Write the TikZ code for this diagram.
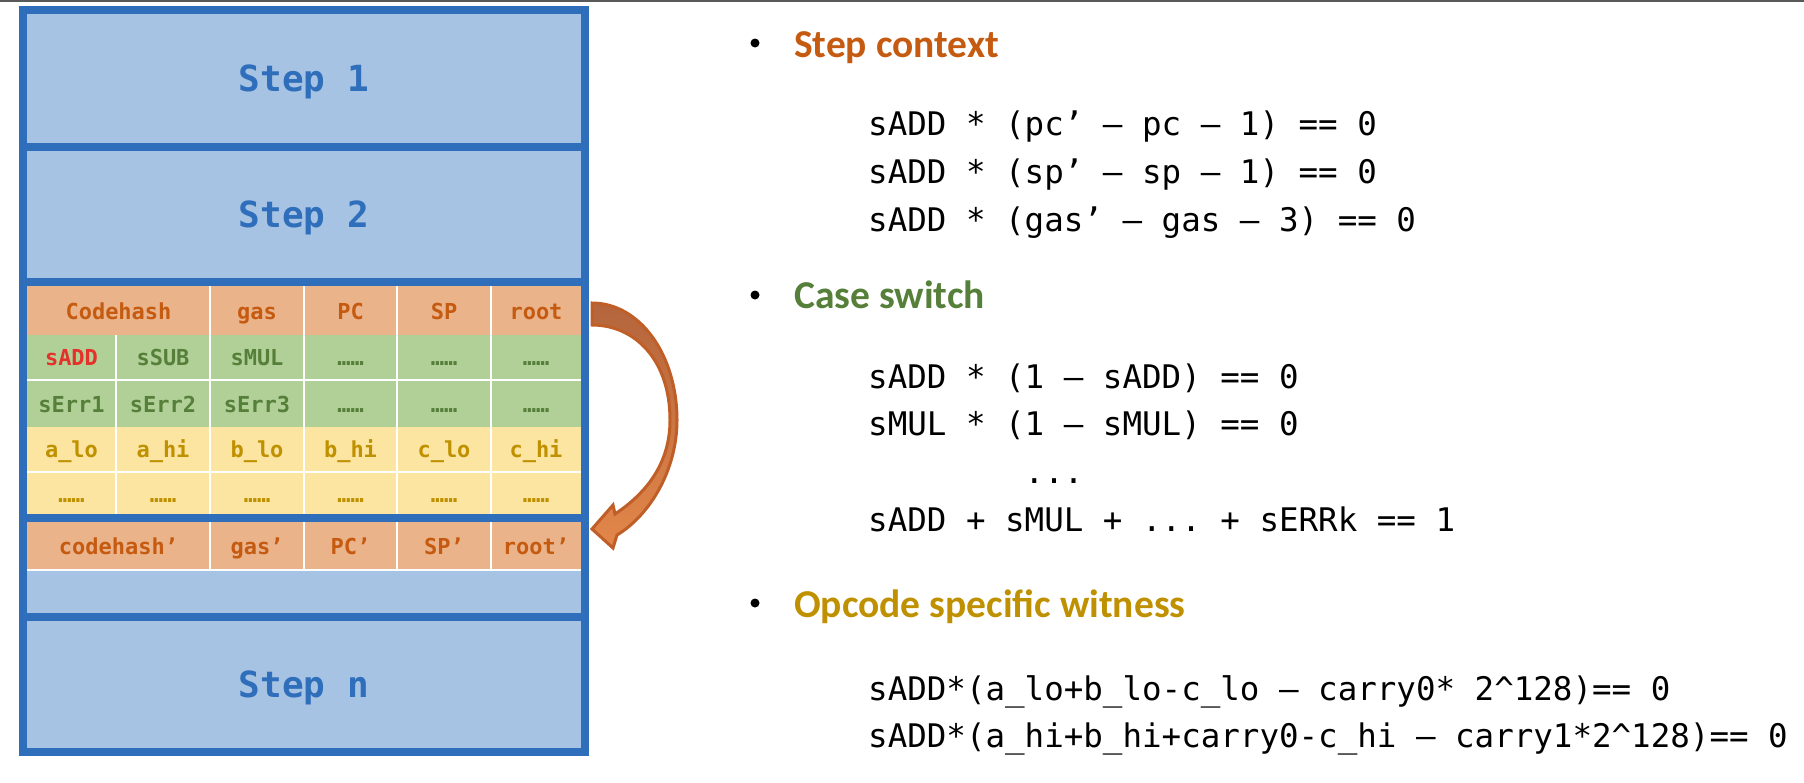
\documentclass[tikz,border=0pt]{standalone}
\usepackage{fontspec}
\setmonofont{DejaVu Sans Mono}
\newfontfamily\headfont{Carlito}

\definecolor{stepblue}{HTML}{2F6EBA}
\definecolor{stepfill}{HTML}{A6C3E3}
\definecolor{ctxorange}{HTML}{C55A11}
\definecolor{ctxfill}{HTML}{EAB38A}
\definecolor{swgreen}{HTML}{56803A}
\definecolor{swfill}{HTML}{B1D098}
\definecolor{witgold}{HTML}{BF9000}
\definecolor{witfill}{HTML}{FBE5A1}
\definecolor{saddred}{HTML}{E6302A}
\definecolor{arrowdark}{HTML}{B4653C}
\definecolor{arrowlight}{HTML}{E3874A}
\definecolor{arrowline}{HTML}{C05E27}

\begin{document}
\begin{tikzpicture}[x=1pt, y=-1pt,
    stepbox/.style={draw=stepblue, line width=8pt, fill=stepfill, inner sep=0pt,
      minimum width=562pt, text=stepblue, text height=27pt, text depth=0pt,
      font=\ttfamily\bfseries\fontsize{36}{40}\selectfont},
    cell/.style={inner sep=0pt, text height=17pt, text depth=0pt,
      font=\ttfamily\bfseries\fontsize{22}{24}\selectfont},
    ctxcell/.style={cell, fill=ctxfill, text=ctxorange},
    swcell/.style={cell, fill=swfill, text=swgreen},
    witcell/.style={cell, fill=witfill, text=witgold},
    gap/.style={white, line width=2pt},
    heading/.style={anchor=base west, inner sep=0pt,
      font=\headfont\bfseries\fontsize{39.5}{44}\selectfont},
    code/.style={anchor=base west, inner sep=0pt,
      font=\ttfamily\fontsize{32.5}{36}\selectfont},
    bulletdot/.style={circle, fill=black, inner sep=0pt, minimum size=9pt}
]
    \useasboundingbox (0,0) rectangle (1804,782);
    \draw[black!65, line width=1.5pt] (0,0.75) -- (1804,0.75);

    % the steps
    \node[stepbox, minimum height=136.5] (step1) at (304,78.25) {Step 1};
    \node[stepbox, minimum height=135.5] (step2) at (304,214.25) {Step 2};
    \node[stepbox, minimum height=334.5] (trace) at (304,449.25) {};
    \node[stepbox, minimum height=135.5] (stepn) at (304,684.25) {Step n};

    % cells of the current step
    \foreach \nm/\cx/\cw/\txt in {codehash/118.5/183/Codehash, gas/257/94/gas,
        pc/350.5/93/PC, sp/444/94/SP, root/536/90/root}
      \node[ctxcell, minimum width=\cw, minimum height=49] (\nm) at (\cx,310.5) {\txt};
    \foreach \nm/\cx/\cw/\txt/\tc in {sadd/71.5/89/sADD/saddred, ssub/163/94/sSUB/swgreen,
        smul/257/94/sMUL/swgreen, opdotsa/350.5/93/……/swgreen,
        opdotsb/444/94/……/swgreen, opdotsc/536/90/……/swgreen}
      \node[swcell, text=\tc, minimum width=\cw, minimum height=44] (\nm) at (\cx,357) {\txt};
    \foreach \nm/\cx/\cw/\txt in {serr1/71.5/89/sErr1, serr2/163/94/sErr2,
        serr3/257/94/sErr3, errdotsa/350.5/93/……, errdotsb/444/94/……, errdotsc/536/90/……}
      \node[swcell, minimum width=\cw, minimum height=46] (\nm) at (\cx,404) {\txt};
    \foreach \nm/\cx/\cw/\txt in {alo/71.5/89/a\_lo, ahi/163/94/a\_hi,
        blo/257/94/b\_lo, bhi/350.5/93/b\_hi, clo/444/94/c\_lo, chi/536/90/c\_hi}
      \node[witcell, minimum width=\cw, minimum height=44] (\nm) at (\cx,449) {\txt};
    \foreach \nm/\cx/\cw in {witdotsa/71.5/89, witdotsb/163/94, witdotsc/257/94,
        witdotsd/350.5/93, witdotse/444/94, witdotsf/536/90}
      \node[witcell, minimum width=\cw, minimum height=41] (\nm) at (\cx,493.5) {……};
    \foreach \nm/\cx/\cw/\txt in {codehashN/118.5/183/codehash’, gasN/257/94/gas’,
        pcN/350.5/93/PC’, spN/444/94/SP’, rootN/536/90/root’}
      \node[ctxcell, minimum width=\cw, minimum height=47] (\nm) at (\cx,545.5) {\txt};

    \foreach \gx in {210,304,397,491}
      \draw[gap] (\gx,286) -- (\gx,514) (\gx,522) -- (\gx,569);
    \draw[gap] (116,335) -- (116,514);
    \draw[gap] (27,380) -- (581,380) (27,472) -- (581,472) (27,570) -- (581,570);
    \draw[stepblue, line width=8pt] (23,518) -- (585,518);

    % root -> root'
    \draw[arrowline, line width=3pt, top color=arrowdark, bottom color=arrowlight]
      (592,303) .. controls (640,303) and (677,355) .. (677,420)
      .. controls (677,470) and (650,515) .. (617,535)
      -- (613,548) -- (592,529) -- (613,505) -- (615,514)
      .. controls (648,492) and (670,462) .. (670,420)
      .. controls (670,360) and (635,325) .. (592,325) -- cycle;

    % constraints
    \node[bulletdot] (ctxbullet) at (755,43) {};
    \node[heading, text=ctxorange] (ctxhead) at (794,57) {Step context};
    \node[code] (ctx1) at (868,135) {sADD * (pc’ – pc – 1) == 0};
    \node[code] (ctx2) at (868,183) {sADD * (sp’ – sp – 1) == 0};
    \node[code] (ctx3) at (868,231) {sADD * (gas’ – gas – 3) == 0};

    \node[bulletdot] (swbullet) at (755,295) {};
    \node[heading, text=swgreen] (swhead) at (794,308) {Case switch};
    \node[code] (sw1) at (868,388) {sADD * (1 – sADD) == 0};
    \node[code] (sw2) at (868,435) {sMUL * (1 – sMUL) == 0};
    \node[code] (sw3) at (1024.5,483) {...};
    \node[code] (sw4) at (868,531) {sADD + sMUL + ... + sERRk == 1};

    \node[bulletdot] (witbullet) at (755,603) {};
    \node[heading, text=witgold] (withead) at (794,617) {Opcode specific witness};
    \node[code] (wit1) at (868,700) {sADD*(a\_lo+b\_lo-c\_lo – carry0* 2\textasciicircum128)== 0};
    \node[code] (wit2) at (868,747) {sADD*(a\_hi+b\_hi+carry0-c\_hi – carry1*2\textasciicircum128)== 0};
\end{tikzpicture}
\end{document}
